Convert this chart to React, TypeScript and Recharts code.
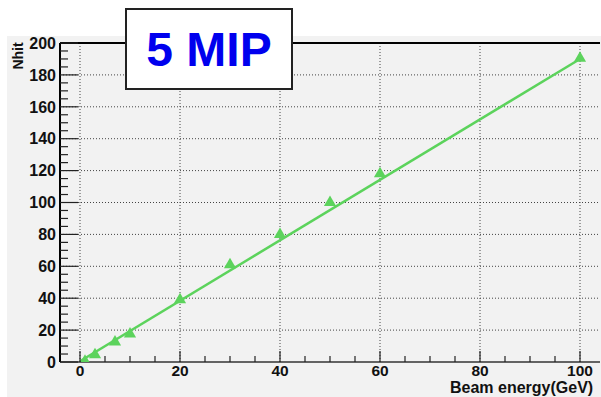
import { ComposedChart, Line, Scatter, XAxis, YAxis, ReferenceLine } from "recharts"

const energies = [1, 3, 7, 10, 20, 30, 40, 50, 60, 100]
const nhits = [0.5, 4.5, 12.5, 17.5, 39, 61, 80, 100, 118, 190.5]
const fitEnergies = [0, 100]
const fitNhits = [0.5, 190]

const xMajor = [0, 20, 40, 60, 80, 100]
const yMajor = [0, 20, 40, 60, 80, 100, 120, 140, 160, 180, 200]
const xTicks = [0, 5, 10, 15, 20, 25, 30, 35, 40, 45, 50, 55, 60, 65, 70, 75, 80, 85, 90, 95, 100]
const yTicks = [
  0, 5, 10, 15, 20, 25, 30, 35, 40, 45, 50, 55, 60, 65, 70, 75, 80, 85, 90, 95, 100,
  105, 110, 115, 120, 125, 130, 135, 140, 145, 150, 155, 160, 165, 170, 175, 180, 185, 190, 195, 200,
]

const points = energies.map((e, i) => ({ x: e, y: nhits[i] }))
const fit = fitEnergies.map((e, i) => ({ x: e, y: fitNhits[i] }))

const green = "#5cd35c"
const font = "'Liberation Sans', Arial, sans-serif"

function XTick(props: any) {
  const { x, y, payload } = props
  const major = payload.value % 20 === 0
  return (
    <g>
      <line x1={x} x2={x} y1={y} y2={y - (major ? 11 : 6)} stroke="#222" strokeWidth={1.2} />
      {major && (
        <text x={x} y={y + 14} textAnchor="middle" fontFamily={font} fontWeight="bold" fontSize={15.5} fill="#111">
          {payload.value}
        </text>
      )}
    </g>
  )
}

function YTick(props: any) {
  const { x, y, payload } = props
  const major = payload.value % 20 === 0
  return (
    <g>
      <line x1={x} x2={x + (major ? 18 : 8)} y1={y} y2={y} stroke="#222" strokeWidth={1.2} />
      {major && (
        <text x={x - 4} y={y} dy="0.36em" textAnchor="end" fontFamily={font} fontWeight="bold" fontSize={16} fill="#111">
          {payload.value}
        </text>
      )}
    </g>
  )
}

export default function App() {
  return (
    <div style={{ position: "absolute", left: 0, top: 0, width: 601, height: 397, background: "#fff", overflow: "hidden" }}>
      <div style={{ position: "absolute", left: 7, top: 36, width: 594, height: 361, background: "#f2f2f2" }} />
      <div style={{ position: "absolute", left: 0, top: 0 }}>
        <ComposedChart width={601} height={397} margin={{ top: 43, right: 1, bottom: 0, left: 0 }}>
          <XAxis
            type="number"
            dataKey="x"
            domain={[-4, 104]}
            ticks={xTicks}
            interval={0}
            height={35}
            tickSize={0}
            tickMargin={0}
            tickLine={false}
            tick={<XTick />}
            axisLine={{ stroke: "#333", strokeWidth: 1.5 }}
            allowDataOverflow
          />
          <YAxis
            type="number"
            dataKey="y"
            domain={[0, 200]}
            ticks={yTicks}
            interval={0}
            width={60}
            tickSize={0}
            tickMargin={0}
            tickLine={false}
            tick={<YTick />}
            axisLine={{ stroke: "#000", strokeWidth: 2 }}
            allowDataOverflow
          />
          {xMajor.map((v) => (
            <ReferenceLine key={"gx" + v} x={v} stroke="#444" strokeDasharray="1 2" />
          ))}
          {yMajor.slice(1, -1).map((v) => (
            <ReferenceLine key={"gy" + v} y={v} stroke="#444" strokeDasharray="1 2" />
          ))}
          <ReferenceLine y={200} stroke="#000" strokeWidth={2} />
          <Line
            data={fit}
            dataKey="y"
            type="linear"
            stroke={green}
            strokeWidth={2.5}
            dot={false}
            isAnimationActive={false}
          />
          <Scatter data={points} dataKey="y" shape="triangle" fill={green} isAnimationActive={false} />
          <text x={18} y={56} transform="rotate(-90 18 56)" textAnchor="middle" dy="0.36em" fontFamily={font} fontWeight="bold" fontSize={14} fill="#111">
            Nhit
          </text>
          <text x={450} y={393} fontFamily={font} fontWeight="bold" fontSize={16} fill="#111">
            Beam energy(GeV)
          </text>
        </ComposedChart>
      </div>
      <div
        style={{
          position: "absolute",
          left: 125,
          top: 8,
          width: 164,
          height: 78,
          background: "#fff",
          border: "2px solid #222",
          color: "#0000ee",
          fontFamily: font,
          fontWeight: "bold",
          fontSize: 48,
          lineHeight: "80px",
          textAlign: "center",
        }}
      >
        5 MIP
      </div>
    </div>
  )
}
